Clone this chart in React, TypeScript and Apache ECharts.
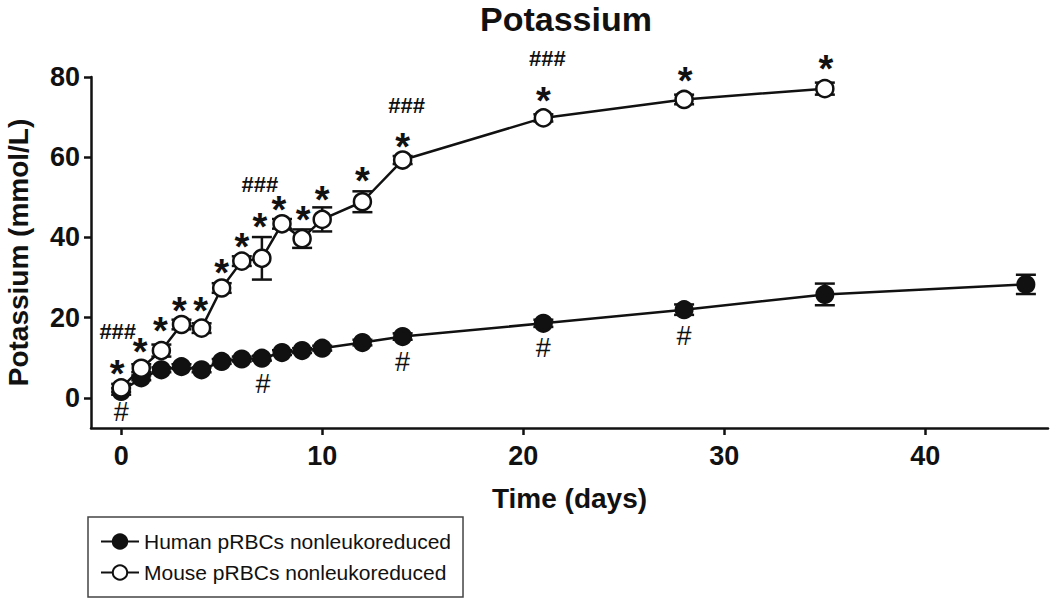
import React, { useEffect, useRef } from "react";
import * as echarts from "echarts";

const FONT = "'Liberation Sans', Arial, sans-serif";

const humanDays = [0, 1, 2, 3, 4, 5, 6, 7, 8, 9, 10, 12, 14, 21, 28, 35, 45];
const humanK = [1.6, 5.0, 7.0, 7.8, 7.0, 9.1, 9.7, 9.9, 11.3, 11.8, 12.4, 13.8, 15.3, 18.6, 22.0, 25.8, 28.3];
const humanSE = [0.8, 0.6, 0.6, 0.6, 0.6, 0.6, 0.6, 0.6, 0.6, 0.6, 0.6, 0.7, 0.8, 0.9, 1.3, 2.7, 2.4];

const mouseDays = [0, 1, 2, 3, 4, 5, 6, 7, 8, 9, 10, 12, 14, 21, 28, 35];
const mouseK = [2.5, 7.4, 11.8, 18.3, 17.4, 27.4, 34.1, 34.8, 43.4, 39.7, 44.5, 48.9, 59.3, 69.8, 74.4, 77.1];
const mouseSE = [1.0, 1.0, 1.5, 1.2, 1.2, 1.2, 1.2, 5.3, 1.2, 2.3, 3.0, 2.6, 1.0, 0.9, 1.2, 1.5];

const xTicks = [0, 10, 20, 30, 40];
const yTicks = [0, 20, 40, 60, 80];

// significance marks: [day, y position of mark]
const starMarks = [
  [-0.2, 8.3], [0.95, 13.8], [1.95, 18.8], [2.9, 24.0], [3.95, 23.8], [5.0, 33.3],
  [6.0, 39.8], [6.9, 44.8], [7.85, 49.0], [9.05, 46.5], [10.0, 51.5], [12.0, 56.3],
  [14.0, 64.9], [21.0, 76.3], [28.05, 81.3], [35.05, 84.2],
];
const hashMarks = [[0.0, -3.4], [7.05, 3.5], [14.0, 9.0], [21.0, 12.5], [28.0, 15.5]];
const tripleHashMarks = [[-0.17, 16.5], [6.9, 53.3], [14.2, 73.0], [21.2, 84.5]];

const HUMAN = "Human pRBCs nonleukoreduced";
const MOUSE = "Mouse pRBCs nonleukoreduced";

function errorSeries(days: number[], vals: number[], se: number[], z: number) {
  return {
    type: "custom",
    silent: true,
    z,
    clip: false,
    data: days.map((d, i) => [d, vals[i], se[i]]),
    encode: { x: 0, y: 1 },
    renderItem: (params: any, api: any) => {
      const x = api.value(0);
      const y = api.value(1);
      const e = api.value(2);
      const top = api.coord([x, y + e]);
      const bot = api.coord([x, y - e]);
      const half = 10;
      const st = { stroke: "#111", lineWidth: 2.5 };
      return {
        type: "group",
        children: [
          { type: "line", shape: { x1: top[0], y1: top[1], x2: bot[0], y2: bot[1] }, style: st },
          { type: "line", shape: { x1: top[0] - half, y1: top[1], x2: top[0] + half, y2: top[1] }, style: st },
          { type: "line", shape: { x1: bot[0] - half, y1: bot[1], x2: bot[0] + half, y2: bot[1] }, style: st },
        ],
      };
    },
  };
}

function markSeries(marks: number[][], text: string, fontSize: number, fontWeight: string, dy: number) {
  return {
    type: "scatter",
    silent: true,
    clip: false,
    z: 10,
    symbolSize: 0,
    itemStyle: { color: "#111", opacity: 1 },
    data: marks.map((m) => ({ value: m })),
    label: {
      show: true,
      position: "inside",
      formatter: text,
      color: "#111",
      opacity: 1,
      textBorderWidth: 0,
      fontFamily: FONT,
      fontSize,
      fontWeight,
      offset: [0, dy],
    },
  };
}

export default function App() {
  const ref = useRef<HTMLDivElement>(null);
  useEffect(() => {
    document.body.style.margin = "0";
    const chart = echarts.init(ref.current!, null, { renderer: "svg" });
    const axisText = { fontSize: 27, fontWeight: "bold", color: "#111", fontFamily: FONT };
    chart.setOption({
      animation: false,
      backgroundColor: "#fff",
      title: {
        text: "Potassium",
        left: 561,
        top: -3,
        textAlign: "center",
        textStyle: { fontSize: 34, fontWeight: "bold", color: "#111", fontFamily: FONT },
      },
      grid: { left: 91, right: 2, top: 77, bottom: 170, outerBoundsMode: "none", containLabel: false },
      legend: {
        orient: "vertical",
        left: 88,
        top: 517,
        data: [HUMAN, MOUSE],
        borderColor: "#444",
        borderWidth: 1.5,
        padding: [14, 12, 14, 12],
        itemWidth: 38,
        itemHeight: 18,
        itemGap: 10,
        textStyle: { fontSize: 21, color: "#111", fontFamily: FONT },
      },
      xAxis: {
        type: "value",
        min: -1.5,
        max: 46.1,
        name: "Time (days)",
        nameLocation: "middle",
        nameGap: 56,
        nameTextStyle: { fontSize: 28, fontWeight: "bold", color: "#111", fontFamily: FONT },
        axisLine: { show: true, onZero: false, lineStyle: { color: "#111", width: 2.5 } },
        axisTick: { show: true, customValues: xTicks, length: 7, lineStyle: { color: "#111", width: 2.5 } },
        axisLabel: { customValues: xTicks, margin: 14, ...axisText },
        splitLine: { show: false },
      },
      yAxis: {
        type: "value",
        min: -7.5,
        max: 80,
        name: "Potassium (mmol/L)",
        nameLocation: "middle",
        nameGap: 59,
        nameTextStyle: { fontSize: 28, fontWeight: "bold", color: "#111", fontFamily: FONT },
        axisLine: { show: true, onZero: false, lineStyle: { color: "#111", width: 2.5 } },
        axisTick: { show: true, customValues: yTicks, length: 7, lineStyle: { color: "#111", width: 2.5 } },
        axisLabel: { customValues: yTicks, margin: 11, ...axisText },
        splitLine: { show: false },
      },
      series: [
        errorSeries(humanDays, humanK, humanSE, 1),
        {
          name: HUMAN,
          type: "line",
          z: 2,
          data: humanDays.map((d, i) => [d, humanK[i]]),
          symbol: "circle",
          symbolSize: 17,
          showAllSymbol: true,
          lineStyle: { color: "#111", width: 2.5 },
          itemStyle: { color: "#111", borderColor: "#111", borderWidth: 2 },
        },
        errorSeries(mouseDays, mouseK, mouseSE, 3),
        {
          name: MOUSE,
          type: "line",
          z: 4,
          data: mouseDays.map((d, i) => [d, mouseK[i]]),
          symbol: "circle",
          symbolSize: 17,
          showAllSymbol: true,
          lineStyle: { color: "#111", width: 2.5 },
          itemStyle: { color: "#fff", borderColor: "#111", borderWidth: 2.5 },
        },
        markSeries(starMarks, "*", 38, "bold", 9),
        markSeries(hashMarks, "#", 27, "normal", 0),
        markSeries(tripleHashMarks, "###", 22, "bold", 0),
      ],
    });
    return () => chart.dispose();
  }, []);
  return <div ref={ref} style={{ width: 1050, height: 598 }} />;
}
